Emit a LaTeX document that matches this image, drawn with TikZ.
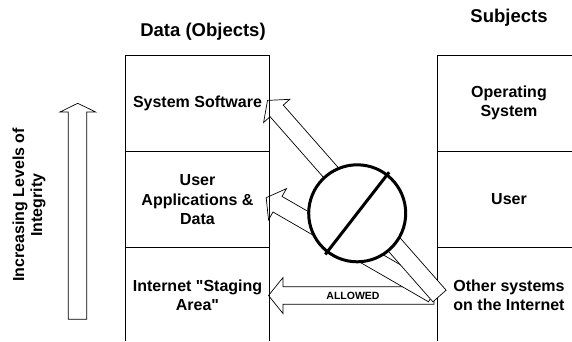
\documentclass[tikz,border=0pt]{standalone}
\usepackage{fontspec}
\setmainfont{Liberation Sans}[Ligatures=TeXOff]
\begin{document}
\begin{tikzpicture}[x=1pt,y=-1pt,
  col/.style={draw=black,line width=0.9pt},
  lbl/.style={font=\fontsize{16}{19.5}\selectfont\bfseries,align=center,inner sep=0pt},
  hdr/.style={font=\fontsize{18.5}{22}\selectfont\bfseries,inner sep=0pt},
  small/.style={font=\fontsize{10.5}{12}\selectfont\bfseries,inner sep=0pt},
  blk/.style={draw=black,fill=white,line width=0.7pt,line join=miter},
  nosign/.style={draw=black,line width=3pt}]
\useasboundingbox (0,0) rectangle (572,341);
% right column (subjects)
\draw[col] (437.7,341) -- (437.7,55.3) -- (572,55.3);
\draw[col] (437.7,151) -- (572,151);
\draw[col] (437.7,247.7) -- (572,247.7);
% named ends
\coordinate (src) at (433,296);
\coordinate (tSys) at (267.5,100.4);
\coordinate (tUsr) at (266.2,197.7);
\coordinate (tNet) at (268.5,295.5);
% ALLOWED arrow
\draw[blk] (434,286.7) -- (283,286.7) -- (283,277.5) -- (tNet) -- (283,313.5) -- (283,304.3) -- (434,304.3) -- cycle;
% arrow to user applications
\draw[blk] (437.5,286.2) -- (282,196.4) -- (286.5,188.6) -- (tUsr) -- (268.5,219.8) -- (273,212) -- (428.5,301.8) -- cycle;
% arrow to system software
\draw[blk] (446.1,290.2) -- (283.3,105.1) -- (289.8,99.3) -- (tSys) -- (263.6,122.5) -- (270.1,116.7) -- (432.9,301.8) -- cycle;
\node[small] (allowed) at (353,295.5) {ALLOWED};
% prohibition sign
\draw[nosign,fill=white] (357.2,213.3) circle (48.5);
\coordinate (s1) at (325.3,254.4);
\coordinate (s2) at (389.1,172.2);
\draw[nosign] (s1) -- (s2);
% left column (data)
\draw[col] (125.7,341) -- (125.7,55.3) -- (269.5,55.3) -- (269.5,341);
\draw[col] (125.7,151) -- (269.5,151);
\draw[col] (125.7,247.7) -- (269.5,247.7);
% integrity arrow
\draw[col,line width=0.7pt,line join=miter] (68.3,319.3) -- (68.3,112) -- (60,112) -- (77.7,103.3) -- (95.7,112) -- (86.7,112) -- (86.7,319.3) -- cycle;
% texts
\node[hdr] (data) at (203,32) {Data (Objects)};
\node[hdr] (subj) at (509,18) {Subjects};
\node[lbl] (sys) at (197.5,103) {System Software};
\node[lbl] (os) at (509,103) {Operating\\System};
\node[lbl] (app) at (197.5,200) {User\\Applications \&\\Data};
\node[lbl] (usr) at (509,199) {User};
\node[lbl] (net) at (197.5,295.5) {Internet "Staging\\Area"};
\node[lbl] (oth) at (509,295.5) {Other systems\\on the Internet};
\node[lbl,rotate=90,font=\fontsize{16}{18}\selectfont\bfseries] (inc) at (29,205) {Increasing Levels of\\Integrity};
\end{tikzpicture}
\end{document}
